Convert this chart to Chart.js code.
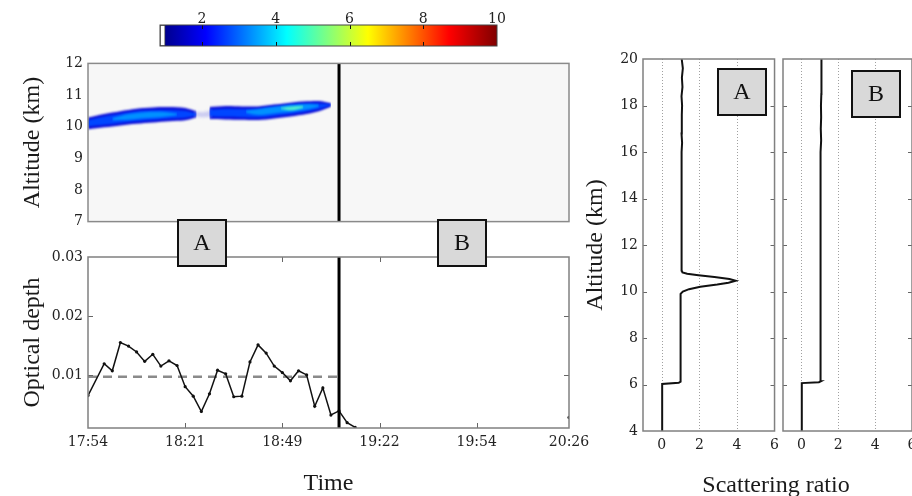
<!DOCTYPE html>
<html lang="en">
<head>
<meta charset="utf-8">
<title>Cirrus layer, optical depth and scattering ratio</title>
<script src="https://cdn.jsdelivr.net/npm/chart.js@4.4.1/dist/chart.umd.min.js"></script>
<style>
  html, body { margin: 0; padding: 0; background: #fff; }
  body { position: relative; width: 912px; height: 496px; overflow: hidden; }
  canvas { position: absolute; }
  #cap-ratio { position: absolute; left: 776px; top: 472px; transform: translateX(-50%);
    font: 24px/24px 'Liberation Serif', serif; color: #1a1a1a; white-space: nowrap; }
</style>
</head>
<body>
<canvas id="colorbar" width="400" height="56" style="left:130px; top:0px"></canvas>
<canvas id="curtain" width="600" height="185" style="left:0px; top:50px"></canvas>
<canvas id="depth" width="600" height="281" style="left:0px; top:215px"></canvas>
<canvas id="profileA" width="215" height="456" style="left:570px; top:40px"></canvas>
<canvas id="profileB" width="190" height="456" style="left:760px; top:40px"></canvas>
<div id="cap-ratio">Scattering ratio</div>
<script>
// --- time axis (profile index along the flight) ---
const timeTicks = [0, 12, 24, 36, 48, 59.4];
const timeLabels = ['17:54', '18:21', '18:49', '19:22', '19:54', '20:26'];
const lastStep = 59.4;
const splitStep = 31;

// --- colour scale ---
const cbMin = 0.86;
const cbTicks = [2, 4, 6, 8, 10];
const jetValues = [1, 2.1, 4.3, 6.5, 8.7, 10];
const jetColors = ['#00008f', '#0000ff', '#00ffff', '#ffff00', '#ff0000', '#800000'];

// --- cirrus layer edges (km) ---
const cloudSteps = [0, 2, 4, 6, 8, 10, 12, 13.4, 14.2, 15, 17, 19, 21, 23, 25, 27, 28.5, 30];
const outerTop  = [10.29, 10.40, 10.49, 10.57, 10.61, 10.62, 10.59, 10.48, null, 10.62, 10.65, 10.64, 10.64, 10.70, 10.76, 10.80, 10.81, 10.74];
const outerBase = [9.92, 9.98, 10.04, 10.09, 10.13, 10.17, 10.20, 10.30, null, 10.24, 10.23, 10.22, 10.21, 10.26, 10.32, 10.40, 10.49, 10.64];
const midTop    = [10.21, 10.32, 10.41, 10.49, 10.52, 10.53, 10.50, 10.42, null, 10.54, 10.57, 10.56, 10.56, 10.62, 10.68, 10.72, 10.73, 10.71];
const midBase   = [10.01, 10.06, 10.12, 10.17, 10.21, 10.25, 10.28, 10.35, null, 10.32, 10.31, 10.30, 10.29, 10.34, 10.40, 10.48, 10.56, 10.67];
const coreSteps = [3, 5, 7, 9, 11, 12, 19.5, 21, 23, 25, 27, 28.5];
const coreTop   = [10.27, 10.40, 10.46, 10.47, 10.42, null, 10.51, 10.56, 10.63, 10.69, 10.72, 10.70];
const coreBase  = [10.20, 10.22, 10.27, 10.30, 10.36, null, 10.43, 10.37, 10.42, 10.47, 10.54, 10.63];
const hotSteps  = [23.8, 25.2, 26.6];
const hotTop    = [10.60, 10.64, 10.65];
const hotBase   = [10.56, 10.52, 10.60];
const gapSteps  = [13, 14.2, 15.4];
const gapTop    = [10.47, 10.46, 10.53];
const gapBase   = [10.31, 10.30, 10.31];

// --- optical depth ---
const odSteps  = [0, 2, 3, 4, 5, 6, 7, 8, 9, 10, 11, 12, 13, 14, 15, 16, 17, 18, 19, 20, 21, 22, 23, 24, 25, 26, 27, 28, 29, 30, 31, 32, 33, 34, 59.4];
const odValues = [0.0065, 0.0119, 0.0107, 0.0155, 0.0149, 0.0139, 0.0123, 0.0135, 0.0115, 0.0124, 0.0116, 0.0080, 0.0064, 0.0038, 0.0068, 0.0108, 0.0102, 0.0063, 0.0064, 0.0122, 0.0151, 0.0137, 0.0115, 0.0104, 0.0090, 0.0107, 0.0100, 0.0047, 0.0078, 0.0032, 0.0039, 0.0019, 0.0011, null, 0.0028];
const odMean = 0.0097;
const odTicks = [0.01, 0.02, 0.03];

// --- scattering ratio profiles ---
const altA   = [4, 6.02, 6.07, 6.12, 6.5, 7, 7.5, 8, 8.2, 8.5, 9, 9.5, 9.9, 10.0, 10.1, 10.2, 10.3, 10.38, 10.46, 10.54, 10.62, 10.7, 10.76, 10.82, 10.9, 11.2, 11.6, 12, 12.4, 12.8, 13.2, 13.6, 14, 14.4, 14.8, 15.2, 15.6, 16, 16.4, 16.8, 17.2, 17.6, 18, 18.4, 18.8, 19.2, 19.6, 20];
const ratioA = [0.02, 0.02, 0.9, 1.0, 0.99, 0.99, 1.0, 0.99, 1.02, 1.01, 1.0, 1.0, 1.0, 1.12, 1.45, 2.05, 2.95, 3.55, 3.93, 3.6, 2.8, 1.95, 1.35, 1.1, 1.06, 1.04, 1.06, 1.05, 1.04, 1.06, 1.05, 1.07, 1.05, 1.06, 1.04, 1.07, 1.05, 1.06, 1.08, 1.05, 1.07, 1.06, 1.08, 1.05, 1.1, 1.07, 1.12, 1.06];
const altB   = [4, 6.06, 6.1, 6.14, 6.5, 7, 7.5, 8, 8.5, 9, 9.5, 10, 10.5, 11, 11.5, 12, 12.5, 13, 13.5, 14, 14.5, 15, 15.5, 16, 16.5, 17, 17.5, 18, 18.5, 19, 19.5, 20];
const ratioB = [0.02, 0.02, 0.95, 1.05, 1.04, 1.05, 1.04, 1.05, 1.03, 1.04, 1.03, 1.05, 1.02, 1.03, 1.04, 1.03, 1.04, 1.02, 1.04, 1.03, 1.05, 1.03, 1.06, 1.04, 1.07, 1.05, 1.07, 1.06, 1.08, 1.07, 1.1, 1.09];
const ratioTicks = [0, 2, 4, 6];

Chart.defaults.font.family = "'DejaVu Serif', serif";
Chart.defaults.font.size = 14;
Chart.defaults.color = '#222';
Chart.defaults.animation = false;
Chart.defaults.responsive = false;
Chart.defaults.events = [];
Chart.defaults.plugins.legend.display = false;
Chart.defaults.plugins.tooltip.enabled = false;

const titleFont = { family: "'Liberation Serif', serif", size: 24, lineHeight: 1 };
const noGrid = { display: false, drawTicks: false };
const pts = (xs, ys) => xs.map((x, i) => ({ x, y: ys[i] }));
const fixedTicks = values => scale => { scale.ticks = values.map(value => ({ value })); };

// box, inward tick marks, background and dotted guides
const framePlugin = {
  id: 'frame',
  beforeDraw(chart, args, o) {
    const { ctx, chartArea: a, scales } = chart;
    ctx.save();
    if (o.background) {
      ctx.fillStyle = o.background;
      ctx.fillRect(a.left, a.top, a.width, a.height);
    }
    ctx.strokeStyle = '#a0a0a0';
    ctx.lineWidth = 1;
    ctx.setLineDash([1, 2]);
    (o.guides || []).forEach(v => {
      const px = Math.round(scales.x.getPixelForValue(v)) + 0.5;
      ctx.beginPath();
      ctx.moveTo(px, a.top);
      ctx.lineTo(px, a.bottom);
      ctx.stroke();
    });
    ctx.restore();
  },
  afterDraw(chart, args, o) {
    const { ctx, chartArea: a, scales } = chart;
    const len = o.tickLength || 4;
    ctx.save();
    ctx.strokeStyle = o.tickColor || '#666';
    ctx.lineWidth = 1;
    ctx.beginPath();
    (o.xTicks || []).forEach(v => {
      const px = Math.round(scales.x.getPixelForValue(v)) + 0.5;
      ctx.moveTo(px, a.top); ctx.lineTo(px, a.top + len);
      ctx.moveTo(px, a.bottom); ctx.lineTo(px, a.bottom - len);
    });
    (o.yTicks || []).forEach(v => {
      const py = Math.round(scales.y.getPixelForValue(v)) + 0.5;
      ctx.moveTo(a.left, py); ctx.lineTo(a.left + len, py);
      ctx.moveTo(a.right, py); ctx.lineTo(a.right - len, py);
    });
    ctx.stroke();
    ctx.strokeStyle = o.color || '#808080';
    ctx.lineWidth = o.width || 1.5;
    ctx.strokeRect(a.left, a.top, a.width, a.height);
    ctx.restore();
  }
};

// grey letter boxes anchored in data coordinates
const tagPlugin = {
  id: 'tags',
  afterDraw(chart, args, o) {
    const { ctx, scales } = chart;
    (o.items || []).forEach(t => {
      const cx = Math.round(scales.x.getPixelForValue(t.x));
      const cy = Math.round(scales.y.getPixelForValue(t.y));
      ctx.save();
      ctx.fillStyle = '#d9d9d9';
      ctx.strokeStyle = '#111';
      ctx.lineWidth = 2;
      ctx.fillRect(cx - 24, cy - 23, 48, 46);
      ctx.strokeRect(cx - 24, cy - 23, 48, 46);
      ctx.fillStyle = '#111';
      ctx.font = "24px 'Liberation Serif', serif";
      ctx.textAlign = 'center';
      ctx.textBaseline = 'middle';
      ctx.fillText(t.text, cx, cy + 1);
      ctx.restore();
    });
  }
};

// soft edges for the cloud bands: blur only the datasets flagged with `blur`
function blurFor(chart, meta) {
  const b = meta && chart.data.datasets[meta.index].blur;
  chart.ctx.filter = b ? `blur(${b}px)` : 'none';
}
const softEdges = {
  id: 'softEdges',
  beforeDatasetsDraw(chart) {
    const metas = chart.getSortedVisibleDatasetMetas();
    blurFor(chart, metas[metas.length - 1]);
  },
  afterDatasetDraw(chart, args) {
    const metas = chart.getSortedVisibleDatasetMetas();
    blurFor(chart, metas[metas.indexOf(args.meta) - 1]);
  },
  afterDatasetsDraw(chart) { chart.ctx.filter = 'none'; }
};

// ===== colour bar =====
new Chart(document.getElementById('colorbar'), {
  type: 'bar',
  data: {
    labels: [''],
    datasets: [
      { data: [[cbMin, jetValues[0]]], backgroundColor: '#fff', borderColor: '#444', borderWidth: 1, borderSkipped: false },
      {
        data: [[jetValues[0], jetValues[jetValues.length - 1]]],
        borderWidth: 0,
        backgroundColor(c) {
          const chart = c.chart, x = chart.scales.x;
          if (!chart.chartArea || !x) return jetColors[1];
          const v0 = jetValues[0], v1 = jetValues[jetValues.length - 1];
          const g = chart.ctx.createLinearGradient(x.getPixelForValue(v0), 0, x.getPixelForValue(v1), 0);
          jetValues.forEach((v, i) => g.addColorStop((v - v0) / (v1 - v0), jetColors[i]));
          return g;
        }
      }
    ]
  },
  options: {
    indexAxis: 'y',
    datasets: { bar: { barPercentage: 1, categoryPercentage: 1, grouped: false } },
    layout: { padding: { top: 0, right: 33, bottom: 10, left: 30 } },
    scales: {
      x: {
        type: 'linear', position: 'top', min: cbMin, max: 10,
        afterBuildTicks: fixedTicks(cbTicks),
        ticks: { padding: -3, maxRotation: 0, autoSkip: false },
        grid: noGrid, border: { display: false },
        afterFit: s => { s.height = 25; }
      },
      y: { display: false }
    },
    plugins: { frame: { color: '#444', width: 1, xTicks: [2, 4, 6, 8], tickColor: '#111', tickLength: 4 } }
  },
  plugins: [framePlugin]
});

// ===== altitude / time curtain =====
function band(steps, ys, color, fill, order, blur) {
  return {
    data: pts(steps, ys), backgroundColor: color, borderColor: 'transparent', borderWidth: 0,
    fill, order, blur, pointRadius: 0, spanGaps: false, tension: 0.3
  };
}

new Chart(document.getElementById('curtain'), {
  type: 'line',
  data: {
    datasets: [
      band(cloudSteps, outerTop, 'rgb(12,14,215)', '+1', 6, 1.2),
      band(cloudSteps, outerBase, 'transparent', false, 6, 1.2),
      band(gapSteps, gapTop, 'rgba(160,160,235,0.5)', '+1', 5, 1.6),
      band(gapSteps, gapBase, 'transparent', false, 5, 1.6),
      band(cloudSteps, midTop, 'rgb(0,70,255)', '+1', 4, 1.2),
      band(cloudSteps, midBase, 'transparent', false, 4, 1.2),
      band(coreSteps, coreTop, 'rgb(0,145,255)', '+1', 3, 1.2),
      band(coreSteps, coreBase, 'transparent', false, 3, 1.2),
      band(hotSteps, hotTop, 'rgb(80,240,205)', '+1', 2, 1),
      band(hotSteps, hotBase, 'transparent', false, 2, 1),
      { data: [{ x: splitStep, y: 7 }, { x: splitStep, y: 12 }], borderColor: '#000', borderWidth: 3, pointRadius: 0, order: 0 }
    ]
  },
  options: {
    layout: { padding: { top: 8, right: 31, bottom: 10, left: 0 } },
    scales: {
      x: { type: 'linear', display: false, min: 0, max: lastStep },
      y: {
        min: 7, max: 12,
        ticks: { stepSize: 1, padding: 5 },
        grid: noGrid, border: { display: false },
        title: { display: true, text: 'Altitude (km)', font: titleFont, color: '#1a1a1a', padding: { top: 21, bottom: 0 } },
        afterFit: s => { s.width = 88; }
      }
    },
    plugins: { frame: { background: '#f7f7f7', color: '#8a8a8a', width: 1.5 } }
  },
  plugins: [framePlugin, softEdges]
});

// ===== optical depth =====
new Chart(document.getElementById('depth'), {
  type: 'line',
  data: {
    datasets: [
      { data: pts(odSteps, odValues), borderColor: '#111', borderWidth: 1.5, pointRadius: 1.6, pointBorderWidth: 0, pointBackgroundColor: '#111', spanGaps: false, order: 1 },
      { data: [{ x: 0, y: odMean }, { x: splitStep, y: odMean }], borderColor: '#8a8a8a', borderWidth: 2.5, borderDash: [9, 6], pointRadius: 0, order: 2 },
      { data: [{ x: splitStep, y: 0.001 }, { x: splitStep, y: 0.03 }], borderColor: '#000', borderWidth: 3, pointRadius: 0, order: 0 }
    ]
  },
  options: {
    layout: { padding: { top: 42, right: 31, bottom: 0, left: 0 } },
    scales: {
      x: {
        type: 'linear', min: 0, max: lastStep,
        afterBuildTicks: fixedTicks(timeTicks),
        ticks: { callback: (v, i) => timeLabels[i], padding: 6, maxRotation: 0, autoSkip: false },
        grid: noGrid, border: { display: false },
        title: { display: true, text: 'Time', font: titleFont, color: '#1a1a1a', padding: { top: 0, bottom: 0 } },
        afterFit: s => { s.height = 68; }
      },
      y: {
        min: 0.001, max: 0.03,
        afterBuildTicks: fixedTicks(odTicks),
        ticks: { callback: v => v.toFixed(2), padding: 5 },
        grid: noGrid, border: { display: false },
        title: { display: true, text: 'Optical depth', font: titleFont, color: '#1a1a1a', padding: { top: 21, bottom: 0 } },
        afterFit: s => { s.width = 88; }
      }
    },
    plugins: {
      frame: { color: '#808080', width: 1.5, xTicks: [12, 24, 36, 48], yTicks: [0.01, 0.02], tickLength: 5 },
      tags: { items: [{ text: 'A', x: 14.1, y: 0.0323 }, { text: 'B', x: 46.2, y: 0.0324 }] }
    }
  },
  plugins: [framePlugin, tagPlugin]
});

// ===== scattering ratio profiles =====
function profileChart(id, alts, ratios, tag, withAxis, padding) {
  return new Chart(document.getElementById(id), {
    type: 'scatter',
    data: {
      datasets: [{ data: pts(ratios, alts), showLine: true, borderColor: '#111', borderWidth: 2, pointRadius: 0 }]
    },
    options: {
      layout: { padding },
      scales: {
        x: {
          type: 'linear', min: -1, max: 6,
          afterBuildTicks: fixedTicks(ratioTicks),
          ticks: { padding: 6, maxRotation: 0, autoSkip: false },
          grid: noGrid, border: { display: false },
          afterFit: s => { s.height = 65; }
        },
        y: {
          display: withAxis, min: 4, max: 20,
          ticks: { stepSize: 2, padding: 5 },
          grid: noGrid, border: { display: false },
          title: { display: true, text: 'Altitude (km)', font: titleFont, color: '#1a1a1a', padding: { top: 14, bottom: 0 } },
          afterFit: s => { s.width = withAxis ? 73 : 0; }
        }
      },
      plugins: {
        frame: { color: '#808080', width: 1.5, guides: [0, 2, 4], yTicks: [6, 8, 10, 12, 14, 16, 18], tickLength: 4 },
        tags: { items: [tag] }
      }
    },
    plugins: [framePlugin, tagPlugin]
  });
}

profileChart('profileA', altA, ratioA, { text: 'A', x: 4.29, y: 18.58 }, true, { top: 19, right: 7, bottom: 0, left: 0 });
profileChart('profileB', altB, ratioB, { text: 'B', x: 4.04, y: 18.48 }, false, { top: 19, right: 38, bottom: 0, left: 23 });
</script>
</body>
</html>
